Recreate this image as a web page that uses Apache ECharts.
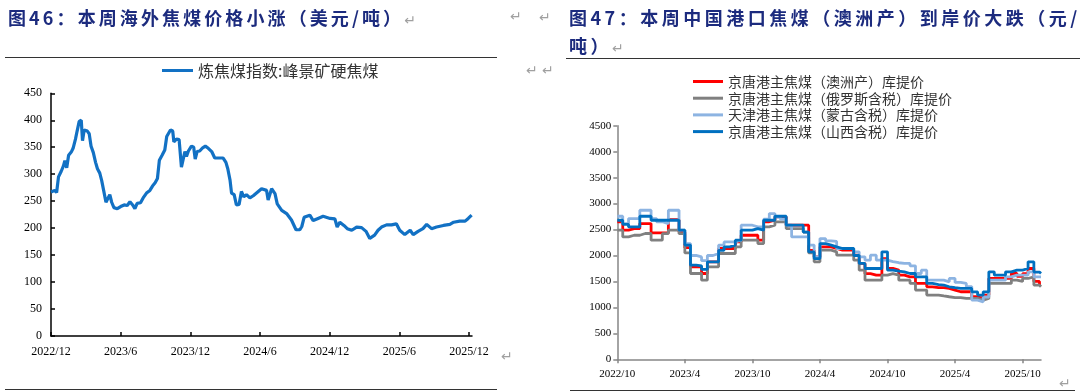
<!DOCTYPE html>
<html>
<head>
<meta charset="utf-8">
<script src="https://cdn.jsdelivr.net/npm/echarts@6/dist/echarts.min.js"></script>
<style>
html,body{margin:0;padding:0;background:#fff;width:1080px;height:392px;overflow:hidden;}
#chart{position:absolute;left:0;top:0;width:1080px;height:392px;}
.t{position:absolute;font-family:"Noto Sans CJK SC";font-weight:bold;font-size:18px;color:#1C2B7E;white-space:nowrap;line-height:24px;z-index:2;}
.r{position:absolute;height:1px;background:#333;z-index:2;}
.m{position:absolute;font-family:"DejaVu Sans";font-size:14px;color:#a0a0a0;line-height:16px;z-index:2;font-weight:normal;letter-spacing:0;}
.mi{font-family:"DejaVu Sans";font-size:14px;color:#a0a0a0;font-weight:normal;letter-spacing:0;margin-left:0;}
</style>
</head>
<body>
<div id="chart"></div>
<div class="t" style="left:8px;top:5px;letter-spacing:3.1px;">图46：本周海外焦煤价格小涨（美元/吨）<span class="mi">↵</span></div>
<div class="t" style="left:569px;top:3px;letter-spacing:3.5px;line-height:28px;">图47：本周中国港口焦煤（澳洲产）到岸价大跌（元/<br>吨）<span class="mi">↵</span></div>
<div class="r" style="left:5px;top:57px;width:492px;"></div>
<div class="r" style="left:566px;top:58px;width:514px;"></div>
<div class="r" style="left:5px;top:389px;width:492px;"></div>
<div class="r" style="left:570px;top:390px;width:505px;"></div>
<div class="m" style="left:510px;top:8px;">↵</div>
<div class="m" style="left:539px;top:9px;">↵</div>
<div class="m" style="left:526px;top:62px;">↵</div>
<div class="m" style="left:542px;top:62px;">↵</div>
<div class="m" style="left:501px;top:348px;">↵</div>
<div class="m" style="left:1059px;top:375px;">↵</div>
<script>
// ---- Left chart data: 炼焦煤指数:峰景矿硬焦煤 (美元/吨)
const leftName = '炼焦煤指数:峰景矿硬焦煤';
const leftDates = [
'2022-12-01','2022-12-11','2022-12-16','2022-12-21','2022-12-28','2023-01-03','2023-01-07','2023-01-12','2023-01-17','2023-01-24',
'2023-01-29','2023-02-04','2023-02-08','2023-02-13','2023-02-18','2023-02-21','2023-02-25','2023-03-05','2023-03-10','2023-03-15',
'2023-03-21','2023-03-27','2023-04-01','2023-04-07','2023-04-12','2023-04-17','2023-04-23','2023-04-28','2023-05-03','2023-05-08',
'2023-05-14','2023-05-23','2023-06-01','2023-06-10','2023-06-18','2023-06-25','2023-07-02','2023-07-08','2023-07-14','2023-07-23',
'2023-07-30','2023-08-08','2023-08-17','2023-08-24','2023-08-31','2023-09-06','2023-09-11','2023-09-18','2023-09-25','2023-09-30',
'2023-10-05','2023-10-10','2023-10-16','2023-10-19','2023-10-26','2023-11-02','2023-11-08','2023-11-12','2023-11-17','2023-11-21',
'2023-11-26','2023-12-04','2023-12-10','2023-12-14','2023-12-19','2023-12-26','2024-01-03','2024-01-10','2024-01-18','2024-01-27',
'2024-02-04','2024-02-15','2024-02-25','2024-03-03','2024-03-08','2024-03-14','2024-03-18','2024-03-25','2024-03-31','2024-04-07',
'2024-04-13','2024-04-19','2024-04-26','2024-05-05','2024-05-14','2024-05-18','2024-06-05','2024-06-18','2024-06-22','2024-07-01',
'2024-07-10','2024-07-16','2024-07-28','2024-08-10','2024-08-23','2024-09-04','2024-09-14','2024-09-19','2024-09-25','2024-10-10',
'2024-10-19','2024-11-01','2024-11-14','2024-12-02','2024-12-15','2024-12-21','2024-12-28','2025-01-08','2025-01-17','2025-01-29',
'2025-02-10','2025-02-22','2025-03-05','2025-03-15','2025-03-28','2025-04-06','2025-04-15','2025-04-28','2025-05-11','2025-05-24',
'2025-06-02','2025-06-15','2025-06-29','2025-07-07','2025-07-20','2025-08-02','2025-08-12','2025-08-25','2025-09-07','2025-09-25',
'2025-10-12','2025-10-22','2025-11-07','2025-11-21','2025-11-29','2025-12-08'
];
const leftValues = [
267,270,266,295,305,315,325,312,335,341,
348,365,380,398,400,362,382,380,375,352,
340,322,310,302,288,270,248,250,262,248,
238,236,240,243,242,249,243,236,246,247,
256,265,270,278,284,292,326,335,345,370,
372,382,380,360,365,364,313,326,342,333,
343,352,350,328,342,343,349,352,348,342,
330,330,330,322,310,289,265,262,243,244,
268,258,262,256,260,258,273,270,252,273,
264,245,233,227,215,197,197,203,220,224,
214,218,222,218,217,202,211,205,199,196,
202,201,194,181,187,196,202,206,206,208,
196,188,196,188,194,199,207,199,202,205,
207,211,213,213,218,224
];
const leftStart = '2022-12-01', leftEnd = '2025-12-09';
const leftTickDates = ['2022-12-01','2023-06-01','2023-12-01','2024-06-01','2024-12-01','2025-06-01','2025-12-01'];
const leftYTicks = {min:0, max:450, interval:50};

// ---- Right chart data (元/吨)
const rightNames = ['京唐港主焦煤（澳洲产）库提价','京唐港主焦煤（俄罗斯含税）库提价','天津港主焦煤（蒙古含税）库提价','京唐港主焦煤（山西含税）库提价'];
const rightDates = [
'2022-10-01','2022-10-16','2022-11-01','2022-11-16','2022-12-01','2022-12-16',
'2023-01-01','2023-01-16','2023-02-01','2023-02-16','2023-03-01','2023-03-16','2023-04-01','2023-04-16','2023-05-01','2023-05-16','2023-06-01','2023-06-16',
'2023-07-01','2023-07-16','2023-08-01','2023-08-16','2023-09-01','2023-09-16','2023-10-01','2023-10-16','2023-11-01','2023-11-16','2023-12-01','2023-12-16',
'2024-01-01','2024-01-16','2024-02-01','2024-02-16','2024-03-01','2024-03-16','2024-04-01','2024-04-16','2024-05-01','2024-05-16','2024-06-01','2024-06-16',
'2024-07-01','2024-07-16','2024-08-01','2024-08-16','2024-09-01','2024-09-16','2024-10-01','2024-10-16','2024-11-01','2024-11-16','2024-12-01','2024-12-16',
'2025-01-01','2025-01-16','2025-02-01','2025-02-16','2025-03-01','2025-03-16','2025-04-01','2025-04-16','2025-05-01','2025-05-16','2025-06-01','2025-06-16',
'2025-07-01','2025-07-16','2025-08-01','2025-08-16','2025-09-01','2025-09-16','2025-10-01','2025-10-16','2025-11-01','2025-11-16','2025-11-20'
];
const redValues = [
2647,2487,2519,2519,2615,2615,
2435,2435,2435,2690,2690,2450,2150,1781,1781,1653,1877,1877,
2134,2134,2134,2262,2390,2390,2390,2294,2650,2679,2743,2743,
2583,2583,2583,2583,2100,1973,2166,2166,2134,2102,2102,2102,
2006,1846,1650,1620,1620,1940,1750,1720,1620,1589,1589,1461,
1461,1397,1380,1380,1365,1333,1301,1301,1301,1205,1172,1237,
1557,1557,1557,1557,1653,1600,1650,1749,1500,1429,1429
];
const greyValues = [
2487,2358,2390,2390,2423,2423,
2294,2294,2420,2487,2487,2420,2050,1653,1653,1525,1781,1781,
2038,2038,2038,2166,2294,2294,2294,2230,2550,2583,2647,2647,
2519,2519,2519,2450,2050,1877,2102,2102,2070,2006,2006,2006,
1910,1717,1525,1525,1525,1620,1650,1621,1525,1525,1461,1333,
1333,1237,1237,1220,1205,1190,1190,1172,1172,1172,1140,1172,
1461,1461,1461,1461,1525,1500,1557,1589,1430,1397,1397
];
const lightValues = [
2756,2615,2710,2710,2871,2871,
2710,2650,2615,2871,2871,2487,2230,2000,1973,1900,2000,2038,
2200,2262,2262,2294,2583,2583,2550,2550,2700,2807,2740,2700,
2583,2358,2358,2358,2200,1973,2326,2280,2270,2134,2134,2134,
2070,1974,1910,2006,1910,1910,1880,1860,1846,1846,1800,1653,
1717,1525,1525,1525,1493,1557,1480,1461,1400,1140,1108,1200,
1525,1525,1525,1589,1621,1621,1621,1685,1589,1589,1589
];
const blueValues = [
2679,2600,2550,2550,2756,2756,
2679,2679,2679,2679,2679,2487,2200,1813,1800,1731,1877,1877,
2100,2166,2200,2294,2487,2487,2519,2487,2679,2679,2756,2756,
2583,2583,2583,2450,2069,1940,2230,2200,2166,2134,2134,2134,
2000,1846,1749,1749,1749,2070,1717,1700,1685,1653,1653,1589,
1589,1461,1440,1429,1397,1380,1365,1365,1365,1300,1237,1300,
1685,1620,1620,1685,1717,1717,1749,1878,1680,1653,1653
];
const rightColors = ['#FF0000','#808080','#8DB4E2','#0070C0'];
const rightStart = '2022-10-01', rightEnd = '2025-11-20';
const rightTickDates = ['2022-10-01','2023-04-01','2023-10-01','2024-04-01','2024-10-01','2025-04-01','2025-10-01'];
const rightYTicks = {min:0, max:4500, interval:500};

// date string -> months elapsed since a base date (fractional), used as the x value
function monthsSince(base, s){
  const b=base.split('-').map(Number), p=s.split('-').map(Number);
  const dim=new Date(p[0],p[1],0).getDate();
  return (p[0]-b[0])*12+(p[1]-b[1])+(p[2]-1)/dim;
}
function labelFor(base){
  return function(v){
    const b=base.split('-').map(Number);
    const r=Math.round(v);
    if(Math.abs(v-r)>1e-6 || r%6!==0) return '';
    const total=b[0]*12+(b[1]-1)+r;
    return Math.floor(total/12)+'/'+(total%12+1);
  };
}
const pairs=(base,ds,vs)=>ds.map((d,i)=>[monthsSince(base,d),vs[i]]);

const serif='Liberation Serif';
const cjk='Noto Sans CJK SC';
const chart=echarts.init(document.getElementById('chart'),null,{renderer:'canvas'});
const rightSeriesValues=[redValues,greyValues,lightValues,blueValues];
const leftTicks=leftTickDates.map(d=>monthsSince(leftStart,d));
const rightTicks=rightTickDates.map(d=>monthsSince(rightStart,d));
const plain=v=>String(v);
const option={
  animation:false,
  backgroundColor:'#fff',
  grid:[
    {left:51,right:608,top:93.3,bottom:56,containLabel:false,outerBoundsMode:'none'},
    {left:617.3,right:39,top:125.7,bottom:32.7,containLabel:false,outerBoundsMode:'none'}
  ],
  legend:[
    {data:[leftName],left:162,top:62,icon:'rect',itemWidth:31,itemHeight:3,itemGap:0,padding:0,
     textStyle:{fontFamily:cjk,fontSize:16,color:'#333',lineHeight:17}},
    {data:rightNames,orient:'vertical',left:693,top:73.5,icon:'rect',itemWidth:30,itemHeight:3,itemGap:0.7,padding:0,
     textStyle:{fontFamily:cjk,fontSize:14,color:'#333',lineHeight:16}}
  ],
  xAxis:[
    {type:'value',gridIndex:0,min:0,max:monthsSince(leftStart,leftEnd),interval:6,
     axisLine:{show:true,onZero:false,lineStyle:{color:'#000',width:1.5}},
     axisTick:{show:true,inside:true,length:4,lineStyle:{color:'#000',width:1.5},customValues:leftTicks},
     axisLabel:{customValues:leftTicks,formatter:labelFor(leftStart),fontFamily:serif,fontSize:12,color:'#000',margin:10,showMaxLabel:true,showMinLabel:true},
     splitLine:{show:false}},
    {type:'value',gridIndex:1,min:0,max:monthsSince(rightStart,rightEnd),interval:6,
     axisLine:{show:true,onZero:false,lineStyle:{color:'#868686',width:1.5}},
     axisTick:{show:true,inside:false,length:4,lineStyle:{color:'#868686',width:1.5},customValues:rightTicks},
     axisLabel:{customValues:rightTicks,formatter:labelFor(rightStart),fontFamily:serif,fontSize:11,color:'#000',margin:9,showMaxLabel:true,showMinLabel:true},
     splitLine:{show:false}}
  ],
  yAxis:[
    {type:'value',gridIndex:0,min:leftYTicks.min,max:leftYTicks.max,interval:leftYTicks.interval,
     axisLine:{show:true,onZero:false,lineStyle:{color:'#000',width:1.5}},
     axisTick:{show:true,inside:true,length:4,lineStyle:{color:'#000',width:1.5}},
     axisLabel:{fontFamily:serif,fontSize:12,color:'#000',margin:9,formatter:plain},
     splitLine:{show:false}},
    {type:'value',gridIndex:1,min:rightYTicks.min,max:rightYTicks.max,interval:rightYTicks.interval,
     axisLine:{show:true,onZero:false,lineStyle:{color:'#868686',width:1.5}},
     axisTick:{show:true,inside:false,length:4,lineStyle:{color:'#868686',width:1.5}},
     axisLabel:{fontFamily:serif,fontSize:11,color:'#000',margin:6,formatter:plain},
     splitLine:{show:false}}
  ],
  series:[
    {name:leftName,type:'line',xAxisIndex:0,yAxisIndex:0,data:pairs(leftStart,leftDates,leftValues),
     symbol:'none',showSymbol:false,lineStyle:{color:'#1271C4',width:3.2},itemStyle:{color:'#1271C4'}}
  ].concat(rightNames.map((n,i)=>({
     name:n,type:'line',xAxisIndex:1,yAxisIndex:1,step:'end',data:pairs(rightStart,rightDates,rightSeriesValues[i]),
     symbol:'none',showSymbol:false,lineStyle:{color:rightColors[i],width:2.8},itemStyle:{color:rightColors[i]}
  })))
};
chart.setOption(option);
</script>
</body>
</html>
